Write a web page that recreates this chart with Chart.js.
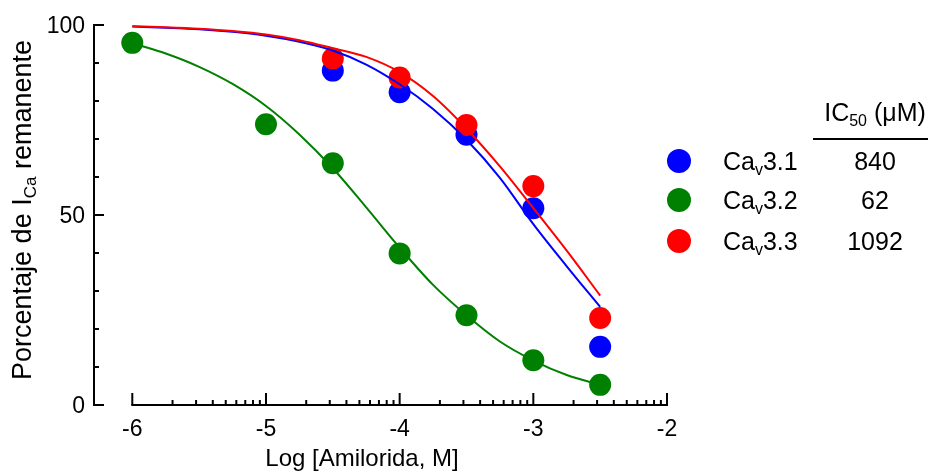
<!DOCTYPE html>
<html><head><meta charset="utf-8">
<script src="https://cdn.jsdelivr.net/npm/chart.js@4.4.1/dist/chart.umd.min.js"></script>
<style>html,body{margin:0;padding:0;background:#fff;}#wrap{width:934px;height:472px;}</style>
</head><body><div id="wrap"><canvas id="c" width="934" height="472"></canvas></div>
<script>
// ---- data ----
const seriesNames = ['3.1', '3.2', '3.3'];
const ic50Values = ['840', '62', '1092'];
const seriesColors = ['#0000ff', '#008000', '#ff0000'];

const logConcA = [-4.5, -4, -3.5, -3, -2.5];            // Cav3.1 and Cav3.3
const cav31 = [88.0, 82.3, 71.1, 51.8, 15.3];
const cav33 = [91.2, 86.2, 73.7, 57.6, 22.9];
const logConcB = [-6, -5, -4.5, -4, -3.5, -3, -2.5];   // Cav3.2
const cav32 = [95.3, 73.9, 63.6, 39.9, 23.6, 11.8, 5.3];

const fitLogConc = [-6, -5.75, -5.5, -5.25, -5, -4.75, -4.5, -4.25, -4, -3.75, -3.5, -3.25, -3, -2.75, -2.5];
const fit31 = [99.6, 99.3, 98.9, 98.2, 97.2, 95.6, 93.3, 89.6, 84.4, 77.9, 69.8, 59.8, 47.6, 36.5, 25.8];
const fit32 = [95.2, 92.5, 89.0, 84.5, 78.7, 71.2, 62.3, 52.0, 41.4, 31.6, 23.6, 16.7, 11.7, 7.9, 5.3];
const fit33 = [99.7, 99.4, 99.0, 98.4, 97.5, 96.0, 93.9, 91.6, 87.6, 81.3, 72.7, 62.8, 51.8, 40.6, 28.8];

const xTickValues = [-6, -5, -4, -3, -2];
const yTickValues = [0, 50, 100];
const yMinorStep = 10;

const FONT = '"Liberation Sans", Arial, sans-serif';

function pts(xs, ys) { return xs.map((x, i) => ({ x: x, y: ys[i] })); }

function drawRich(ctx, parts, x, y, align, big, small, drop) {
  let w = 0;
  const widths = parts.map(p => { ctx.font = (p[1] ? small : big) + 'px ' + FONT; const m = ctx.measureText(p[0]).width; w += m; return m; });
  let cx = align === 'center' ? x - w / 2 : (align === 'right' ? x - w : x);
  ctx.textAlign = 'left';
  parts.forEach((p, i) => {
    ctx.font = (p[1] ? small : big) + 'px ' + FONT;
    ctx.fillText(p[0], cx, p[1] ? y + drop : y);
    cx += widths[i];
  });
}

const axesPlugin = {
  id: 'prismAxes',
  beforeDatasetsDraw(chart) {
    const ctx = chart.ctx, xs = chart.scales.x, ys = chart.scales.y;
    ctx.save();
    ctx.strokeStyle = '#000'; ctx.lineWidth = 2; ctx.lineCap = 'butt';
    const axX = xs.left;
    const y0 = ys.getPixelForValue(0), y100 = ys.getPixelForValue(100);
    ctx.beginPath(); ctx.moveTo(axX, y100 - 1); ctx.lineTo(axX, y0 + 1); ctx.stroke();
    for (let v = 0; v <= 100; v += yMinorStep) {
      const p = ys.getPixelForValue(v);
      const len = yTickValues.includes(v) ? 10 : 5;
      ctx.beginPath(); ctx.moveTo(axX, p); ctx.lineTo(axX + len, p); ctx.stroke();
    }
    const xa = xs.getPixelForValue(xTickValues[0]), xb = xs.getPixelForValue(xTickValues[xTickValues.length - 1]);
    ctx.beginPath(); ctx.moveTo(xa - 1, y0); ctx.lineTo(xb + 1, y0); ctx.stroke();
    for (let d = xTickValues[0]; d < xTickValues[xTickValues.length - 1]; d++) {
      for (let k = 2; k <= 9; k++) {
        const p = xs.getPixelForValue(d + Math.log10(k));
        ctx.beginPath(); ctx.moveTo(p, y0); ctx.lineTo(p, y0 - 5); ctx.stroke();
      }
    }
    xTickValues.forEach(v => {
      const p = xs.getPixelForValue(v);
      ctx.beginPath(); ctx.moveTo(p, y0); ctx.lineTo(p, y0 - 12); ctx.stroke();
    });
    ctx.fillStyle = '#000'; ctx.font = '23px ' + FONT; ctx.textBaseline = 'alphabetic';
    ctx.textAlign = 'right';
    yTickValues.forEach(v => ctx.fillText(String(v), axX - 9, ys.getPixelForValue(v) + 8));
    ctx.textAlign = 'center';
    xTickValues.forEach(v => ctx.fillText(String(v), xs.getPixelForValue(v), y0 + 31));
    ctx.font = '24px ' + FONT;
    ctx.fillText('Log [Amilorida, M]', 362, y0 + 61);
    ctx.save();
    ctx.translate(31, 210); ctx.rotate(-Math.PI / 2);
    drawRich(ctx, [['Porcentaje de I', 0], ['Ca', 1], [' remanente', 0]], 0, 0, 'center', 27, 17, 5);
    ctx.restore();
    ctx.restore();
  },
  afterDraw(chart) {
    const ctx = chart.ctx;
    ctx.save();
    ctx.fillStyle = '#000'; ctx.textBaseline = 'alphabetic';
    drawRich(ctx, [['IC', 0], ['50', 1], [' (\u03bcM)', 0]], 875, 121, 'center', 25, 16, 5);
    ctx.strokeStyle = '#000'; ctx.lineWidth = 2;
    ctx.beginPath(); ctx.moveTo(813, 139); ctx.lineTo(928, 139); ctx.stroke();
    const rows = [161, 200, 241];
    seriesNames.forEach((n, i) => {
      ctx.fillStyle = seriesColors[i];
      ctx.beginPath(); ctx.arc(679, rows[i], 12, 0, Math.PI * 2); ctx.fill();
      ctx.fillStyle = '#000';
      drawRich(ctx, [['Ca', 0], ['v', 1], [n, 0]], 723, rows[i] + 9, 'left', 25, 16, 5);
      ctx.font = '25px ' + FONT; ctx.textAlign = 'center';
      ctx.fillText(ic50Values[i], 875, rows[i] + 9);
    });
    ctx.restore();
  }
};

const pointDs = (data, color, order) => ({
  data: data, showLine: false, pointRadius: 11, pointHoverRadius: 11, pointBorderWidth: 0,
  backgroundColor: color, borderColor: color, clip: false, order: order
});
const lineDs = (data, color, order) => ({
  data: data, showLine: true, pointRadius: 0, borderWidth: 2, borderColor: color,
  backgroundColor: color, cubicInterpolationMode: 'monotone', fill: false, clip: false, order: order
});

new Chart(document.getElementById('c'), {
  type: 'scatter',
  data: {
    datasets: [
      lineDs(pts(fitLogConc, fit33), seriesColors[2], 1),
      lineDs(pts(fitLogConc, fit31), seriesColors[0], 2),
      lineDs(pts(fitLogConc, fit32), seriesColors[1], 3),
      pointDs(pts(logConcA, cav33), seriesColors[2], 4),
      pointDs(pts(logConcA, cav31), seriesColors[0], 5),
      pointDs(pts(logConcB, cav32), seriesColors[1], 6)
    ]
  },
  options: {
    responsive: false, animation: false, devicePixelRatio: 1,
    layout: { padding: { left: 94, right: 267, top: 25, bottom: 67 } },
    plugins: { legend: { display: false }, tooltip: { enabled: false } },
    scales: {
      x: { type: 'linear', min: -6.2865, max: -2, display: false },
      y: { type: 'linear', min: 0, max: 100, display: false }
    }
  },
  plugins: [axesPlugin]
});
</script></body></html>
